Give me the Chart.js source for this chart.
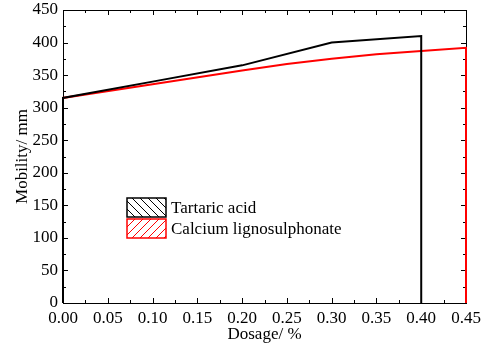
<!DOCTYPE html>
<html>
<head>
<meta charset="utf-8">
<script src="https://cdn.jsdelivr.net/npm/chart.js@4"></script>
<style>
  html, body { margin: 0; padding: 0; background: #fff; }
  #wrap { width: 486px; height: 345px; position: relative; }
</style>
</head>
<body>
<div id="wrap"><canvas id="chart"></canvas></div>
<script>
// data
const tartaricX = [0, 0, 0.1, 0.2, 0.3, 0.4, 0.4];
const tartaricY = [0, 315, 340, 365, 400, 410, 0];
const calciumX = [0, 0, 0.1, 0.2, 0.25, 0.3, 0.35, 0.4, 0.45, 0.45];
const calciumY = [0, 315, 336, 357, 367, 375, 382, 387, 392, 0];
const seriesNames = ['Tartaric acid', 'Calcium lignosulphonate'];
const seriesColors = ['#000000', '#ff0000'];
const xTicks = [0, 0.05, 0.1, 0.15, 0.2, 0.25, 0.3, 0.35, 0.4, 0.45];
const yTicks = [0, 50, 100, 150, 200, 250, 300, 350, 400, 450];

const FONT = "'Liberation Serif', 'Times New Roman', serif";

const toPoints = (xs, ys) => xs.map((x, i) => ({ x: x, y: ys[i] }));

// frame + inward ticks (major and minor), drawn under the lines
const framePlugin = {
  id: 'frame',
  beforeDatasetsDraw(chart) {
    const { ctx, chartArea: a, scales: { x, y } } = chart;
    ctx.save();
    ctx.strokeStyle = '#000';
    ctx.lineWidth = 1;
    ctx.strokeRect(a.left + 0.5, a.top + 0.5, a.right - a.left, a.bottom - a.top);
    ctx.beginPath();
    for (let i = 0; i < xTicks.length; i++) {
      const px = Math.round(x.getPixelForValue(xTicks[i])) + 0.5;
      ctx.moveTo(px, a.bottom); ctx.lineTo(px, a.bottom - 5);
      ctx.moveTo(px, a.top); ctx.lineTo(px, a.top + 5);
      if (i < xTicks.length - 1) {
        const mx = Math.round(x.getPixelForValue((xTicks[i] + xTicks[i + 1]) / 2)) + 0.5;
        ctx.moveTo(mx, a.bottom); ctx.lineTo(mx, a.bottom - 3);
        ctx.moveTo(mx, a.top); ctx.lineTo(mx, a.top + 3);
      }
    }
    for (let i = 0; i < yTicks.length; i++) {
      const py = Math.round(y.getPixelForValue(yTicks[i])) + 0.5;
      ctx.moveTo(a.left, py); ctx.lineTo(a.left + 5, py);
      ctx.moveTo(a.right, py); ctx.lineTo(a.right - 5, py);
      if (i < yTicks.length - 1) {
        const my = Math.round(y.getPixelForValue((yTicks[i] + yTicks[i + 1]) / 2)) + 0.5;
        ctx.moveTo(a.left, my); ctx.lineTo(a.left + 3, my);
        ctx.moveTo(a.right, my); ctx.lineTo(a.right - 3, my);
      }
    }
    ctx.stroke();
    ctx.restore();
  }
};

// legend with hatched boxes, sitting inside the plot
const hatchLegend = {
  id: 'hatchLegend',
  afterDraw(chart) {
    const { ctx, chartArea: a } = chart;
    const bx = a.left + 64, bw = 39, bh = 19;
    let by = a.top + 188;
    ctx.save();
    seriesNames.forEach((name, k) => {
      const col = seriesColors[k];
      ctx.save();
      ctx.beginPath();
      ctx.rect(bx, by, bw, bh);
      ctx.clip();
      ctx.strokeStyle = col;
      ctx.lineWidth = 1;
      ctx.beginPath();
      for (let s = -bh; s < bw + bh; s += 8) {
        if (k === 0) { ctx.moveTo(bx + s, by); ctx.lineTo(bx + s + bh, by + bh); }
        else { ctx.moveTo(bx + s, by + bh); ctx.lineTo(bx + s + bh, by); }
      }
      ctx.stroke();
      ctx.restore();
      ctx.strokeStyle = col;
      ctx.lineWidth = 1.5;
      ctx.strokeRect(bx, by, bw, bh);
      ctx.fillStyle = '#000';
      ctx.font = '17px ' + FONT;
      ctx.textBaseline = 'middle';
      ctx.fillText(name, bx + bw + 5, by + bh / 2 + 1);
      by += bh + 2;
    });
    ctx.restore();
  }
};

new Chart(document.getElementById('chart'), {
  type: 'scatter',
  data: {
    datasets: [
      {
        label: seriesNames[0],
        data: toPoints(tartaricX, tartaricY),
        showLine: true,
        borderColor: seriesColors[0],
        borderWidth: 2,
        pointRadius: 0,
        tension: 0,
        clip: false
      },
      {
        label: seriesNames[1],
        data: toPoints(calciumX, calciumY),
        showLine: true,
        borderColor: seriesColors[1],
        borderWidth: 2,
        pointRadius: 0,
        tension: 0,
        clip: false
      }
    ]
  },
  options: {
    responsive: true,
    maintainAspectRatio: false,
    animation: false,
    layout: { padding: { left: 0, top: 10, right: 20, bottom: 0 } },
    plugins: { legend: { display: false }, tooltip: { enabled: false } },
    scales: {
      x: {
        type: 'linear',
        min: 0,
        max: 0.45,
        afterBuildTicks: s => { s.ticks = xTicks.map(v => ({ value: v })); },
        afterFit: s => { s.height = 42; },
        grid: { display: false, drawTicks: false },
        border: { display: false },
        ticks: {
          color: '#000',
          font: { family: FONT, size: 17 },
          padding: 5,
          maxRotation: 0,
          callback: v => v.toFixed(2)
        },
        title: {
          display: true,
          text: 'Dosage/ %',
          color: '#000',
          font: { family: FONT, size: 17 },
          padding: { top: 0, bottom: 0 }
        }
      },
      y: {
        type: 'linear',
        min: 0,
        max: 450,
        afterBuildTicks: s => { s.ticks = yTicks.map(v => ({ value: v })); },
        afterFit: s => { s.width = 63; s.paddingTop = 0; s.paddingBottom = 0; },
        grid: { display: false, drawTicks: false },
        border: { display: false },
        ticks: {
          color: '#000',
          font: { family: FONT, size: 17 },
          padding: 5
        },
        title: {
          display: true,
          text: 'Mobility/ mm',
          color: '#000',
          font: { family: FONT, size: 17 },
          padding: { top: 12, bottom: 0 }
        }
      }
    }
  },
  plugins: [framePlugin, hatchLegend]
});
</script>
</body>
</html>
